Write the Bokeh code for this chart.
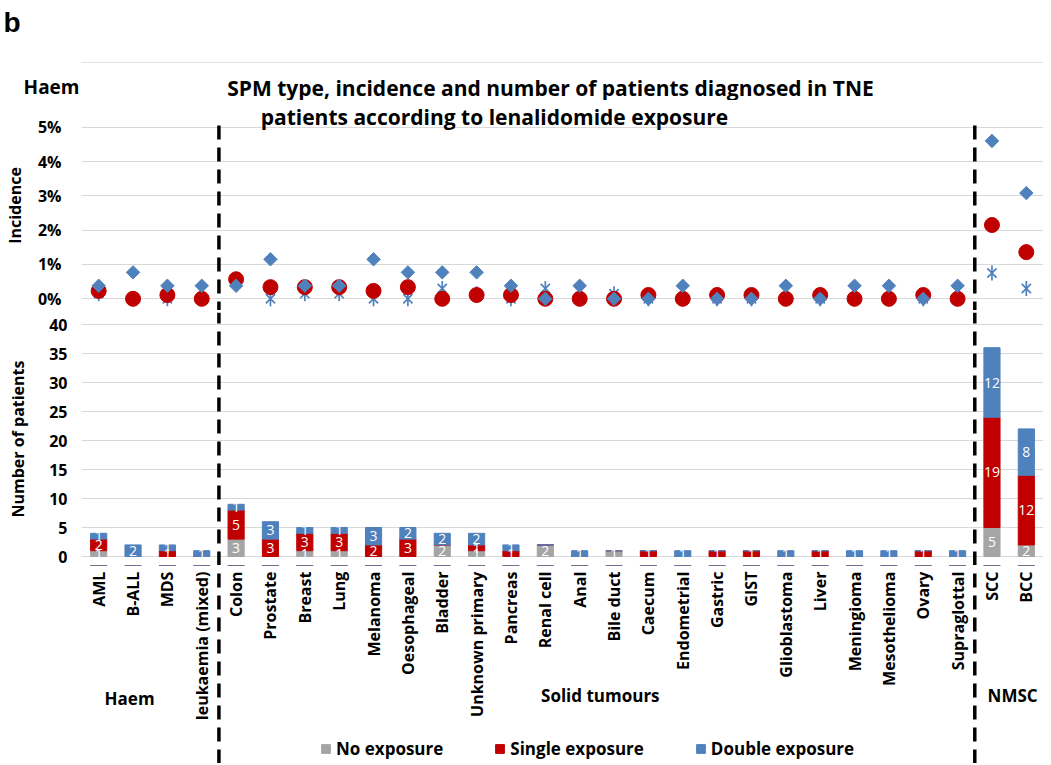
from math import pi
from bokeh.plotting import figure
from bokeh.models import (FactorRange, Range1d, FixedTicker, PrintfTickFormatter,
                          ColumnDataSource, LinearAxis)
from bokeh.layouts import column
from bokeh.embed import file_html
from bokeh.resources import INLINE
from bokeh.core.properties import value

# ---------------- data ----------------
categories = ["AML", "B-ALL", "MDS", "leukaemia (mixed)", "Colon", "Prostate", "Breast",
              "Lung", "Melanoma", "Oesophageal", "Bladder", "Unknown primary", "Pancreas",
              "Renal cell", "Anal", "Bile duct", "Caecum", "Endometrial", "Gastric", "GIST",
              "Glioblastoma", "Liver", "Meningioma", "Mesothelioma", "Ovary", "Supraglottal",
              "SCC", "BCC"]

# number of patients
no_exposure     = [1, 0, 0, 0, 3, 0, 1, 1, 0, 0, 2, 1, 0, 2, 0, 1, 0, 0, 0, 0, 0, 0, 0, 0, 0, 0, 5, 2]
single_exposure = [2, 0, 1, 0, 5, 3, 3, 3, 2, 3, 0, 1, 1, 0, 0, 0, 1, 0, 1, 1, 0, 1, 0, 0, 1, 0, 19, 12]
double_exposure = [1, 2, 1, 1, 1, 3, 1, 1, 3, 2, 2, 2, 1, 0, 1, 0, 0, 1, 0, 0, 1, 0, 1, 1, 0, 1, 12, 8]

# incidence (%)
inc_no     = [0.15, 0, 0, 0, 0.45, 0, 0.15, 0.15, 0, 0, 0.30, 0.15, 0, 0.30, 0, 0.15, 0, 0, 0, 0,
              0, 0, 0, 0, 0, 0, 0.75, 0.30]
inc_single = [0.23, 0, 0.11, 0, 0.57, 0.34, 0.34, 0.34, 0.23, 0.34, 0, 0.11, 0.11, 0, 0, 0, 0.11,
              0, 0.11, 0.11, 0, 0.11, 0, 0, 0.11, 0, 2.15, 1.36]
inc_double = [0.38, 0.77, 0.38, 0.38, 0.38, 1.15, 0.38, 0.38, 1.15, 0.77, 0.77, 0.77, 0.38, 0,
              0.38, 0, 0, 0.38, 0, 0, 0.38, 0, 0.38, 0.38, 0, 0.38, 4.60, 3.08]

series_names = ["No exposure", "Single exposure", "Double exposure"]
groups = ["Haem", "Solid tumours", "NMSC"]
title_lines = ["SPM type, incidence and number of patients diagnosed in TNE",
               "patients according to lenalidomide exposure"]
inc_ticks = [0, 1, 2, 3, 4, 5]
count_ticks = [0, 5, 10, 15, 20, 25, 30, 35, 40]

# ---------------- style ----------------
GRAY, RED, BLUE = "#A5A5A5", "#C00000", "#4F81BD"
COLORS = [GRAY, RED, BLUE]
GRID = "#D9D9D9"
FONT = "Open Sans"
W = 1043
LEFT = 81
DASH = dict(line_color="black", line_width=3.5, line_dash="14 8")
BOLD = dict(text_font=value(FONT), text_font_style="bold", text_color="black")

x_range = FactorRange(factors=categories)


def base_fig(height, y_range, top_border=0, x_rng=x_range, yaxis=True):
    p = figure(width=W, height=height, x_range=x_rng, y_range=y_range,
               x_axis_location=None, y_axis_location="left" if yaxis else None,
               toolbar_location=None, output_backend="svg",
               min_border_left=LEFT, min_border_right=0, min_border_top=top_border,
               min_border_bottom=0)
    p.outline_line_color = None
    p.xgrid.visible = False
    p.ygrid.visible = False
    return p


def bare_axis(ax, standoff, font, size):
    ax.axis_line_color = None
    ax.major_tick_line_color = None
    ax.minor_tick_line_color = None
    ax.major_tick_out = 0
    ax.major_tick_in = 0
    ax.major_label_standoff = standoff
    ax.major_label_text_font = font
    ax.major_label_text_font_style = "bold"
    ax.major_label_text_font_size = size
    ax.major_label_text_color = "black"


def style_yaxis(p, ticks, standoff, label, label_standoff):
    p.yaxis.ticker = FixedTicker(ticks=ticks)
    p.ygrid.ticker = FixedTicker(ticks=ticks)
    p.ygrid.visible = True
    p.ygrid.grid_line_color = GRID
    for ax in p.yaxis:
        bare_axis(ax, standoff, FONT, "16px")
        ax.axis_label = label
        ax.axis_label_standoff = label_standoff
        ax.axis_label_text_font = FONT
        ax.axis_label_text_font_style = "bold"
        ax.axis_label_text_font_size = "16px"
        ax.axis_label_text_color = "black"


# ---------------- header (panel letter, corner label, title line 1) ----------------
# y measured downward in pixels, x in pixels across the plotting area
head = base_fig(100, Range1d(100, 0), x_rng=Range1d(LEFT, W))
head.yaxis.ticker = FixedTicker(ticks=[86])
head.yaxis.major_label_overrides = {86: groups[0]}
for ax in head.yaxis:
    bare_axis(ax, 2, FONT, "19px")
letter_axis = LinearAxis(ticker=FixedTicker(ticks=[22]), major_label_overrides={22: "b"})
bare_axis(letter_axis, 0, "Liberation Sans", "28px")
head.add_layout(letter_axis, "left")
head.line(x=[LEFT, W], y=[62, 62], line_color="#E3E3E3", line_width=1)
head.text(x=[550], y=[87], text=[title_lines[0]], text_align="center", text_baseline="middle",
          text_font_size="21px", **BOLD)

# ---------------- top panel: incidence ----------------
T0, T1 = -0.341, 5.778
top = base_fig(210, Range1d(T0, T1))
top.yaxis.formatter = PrintfTickFormatter(format="%d%%")
style_yaxis(top, inc_ticks, 20, "Incidence", 9)

src_top = ColumnDataSource(dict(cat=categories, no=inc_no, single=inc_single, double=inc_double))
top.scatter("cat", "no", source=src_top, marker="x", size=13, line_color=BLUE, line_width=1.7)
top.scatter("cat", "no", source=src_top, marker="dash", angle=pi / 2, size=15,
            line_color=BLUE, line_width=1.7)
top.scatter("cat", "single", source=src_top, marker="circle", size=15,
            fill_color=RED, line_color=RED)
top.scatter("cat", "double", source=src_top, marker="square", angle=pi / 4, size=9.5,
            fill_color=BLUE, line_color=BLUE)
top.segment(x0=[4, 26], x1=[4, 26], y0=[5.05, 5.05], y1=[T0, T0], **DASH)
top.text(x=[12.02], y=[5.31], text=[title_lines[1]], text_align="center",
         text_baseline="middle", text_font_size="21px", **BOLD)

# ---------------- middle panel: number of patients ----------------
M0, M1 = -1.55, 42.07
mid = base_fig(255, Range1d(M0, M1), top_border=2)
style_yaxis(mid, count_ticks, 14, "Number of patients", 17)

src_bot = ColumnDataSource(dict(cat=categories, no=no_exposure, single=single_exposure,
                                double=double_exposure))
mid.vbar_stack(["no", "single", "double"], x="cat", width=0.47, source=src_bot, color=COLORS)

lab_x, lab_y, lab_t = [], [], []
for i, c in enumerate(categories):
    base = 0
    for v in (no_exposure[i], single_exposure[i], double_exposure[i]):
        if v > 0:
            lab_x.append(c)
            lab_y.append(base + v / 2)
            lab_t.append(str(v))
        base += v
mid.text(x=lab_x, y=lab_y, text=lab_t, text_align="center", text_baseline="middle",
         text_font=value(FONT), text_font_size="14px", text_color="white")
mid.segment(x0=[4, 26], x1=[4, 26], y0=[M0, M0], y1=[M1, M1], **DASH)

# ---------------- foot: category labels, group labels, legend ----------------
F0, F1 = -35.69, -1.55
foot = base_fig(198, Range1d(F0, F1), yaxis=False)
foot.text(x="cat", y=-2.6, text="cat", source=src_bot, angle=pi / 2, text_align="right",
          text_baseline="middle", text_font_size="16px", **BOLD)
foot.text(x=[1.4, 15.1, 27.1], y=[-24.5, -24.0, -24.0], text=groups, text_align="center",
          text_baseline="middle", text_font_size="17px", **BOLD)
foot.segment(x0=[4, 26], x1=[4, 26], y0=[F0, F0], y1=[F1, F1], **DASH)
# same stacked series (lying above this panel's range) supply the legend swatches
foot.vbar_stack(["no", "single", "double"], x="cat", width=0.47, source=src_bot,
                color=COLORS, legend_label=series_names)

lg = foot.legend[0]
lg.orientation = "horizontal"
lg.location = (239, 3)
lg.padding = 0
lg.margin = 0
lg.spacing = 51
lg.glyph_width = 11
lg.glyph_height = 11
lg.label_standoff = 5
lg.border_line_color = None
lg.background_fill_alpha = 0
lg.label_text_font = FONT
lg.label_text_font_style = "bold"
lg.label_text_font_size = "17px"
lg.label_text_color = "black"

layout = column(head, top, mid, foot)
open("out.html", "w").write(file_html(layout, INLINE))
